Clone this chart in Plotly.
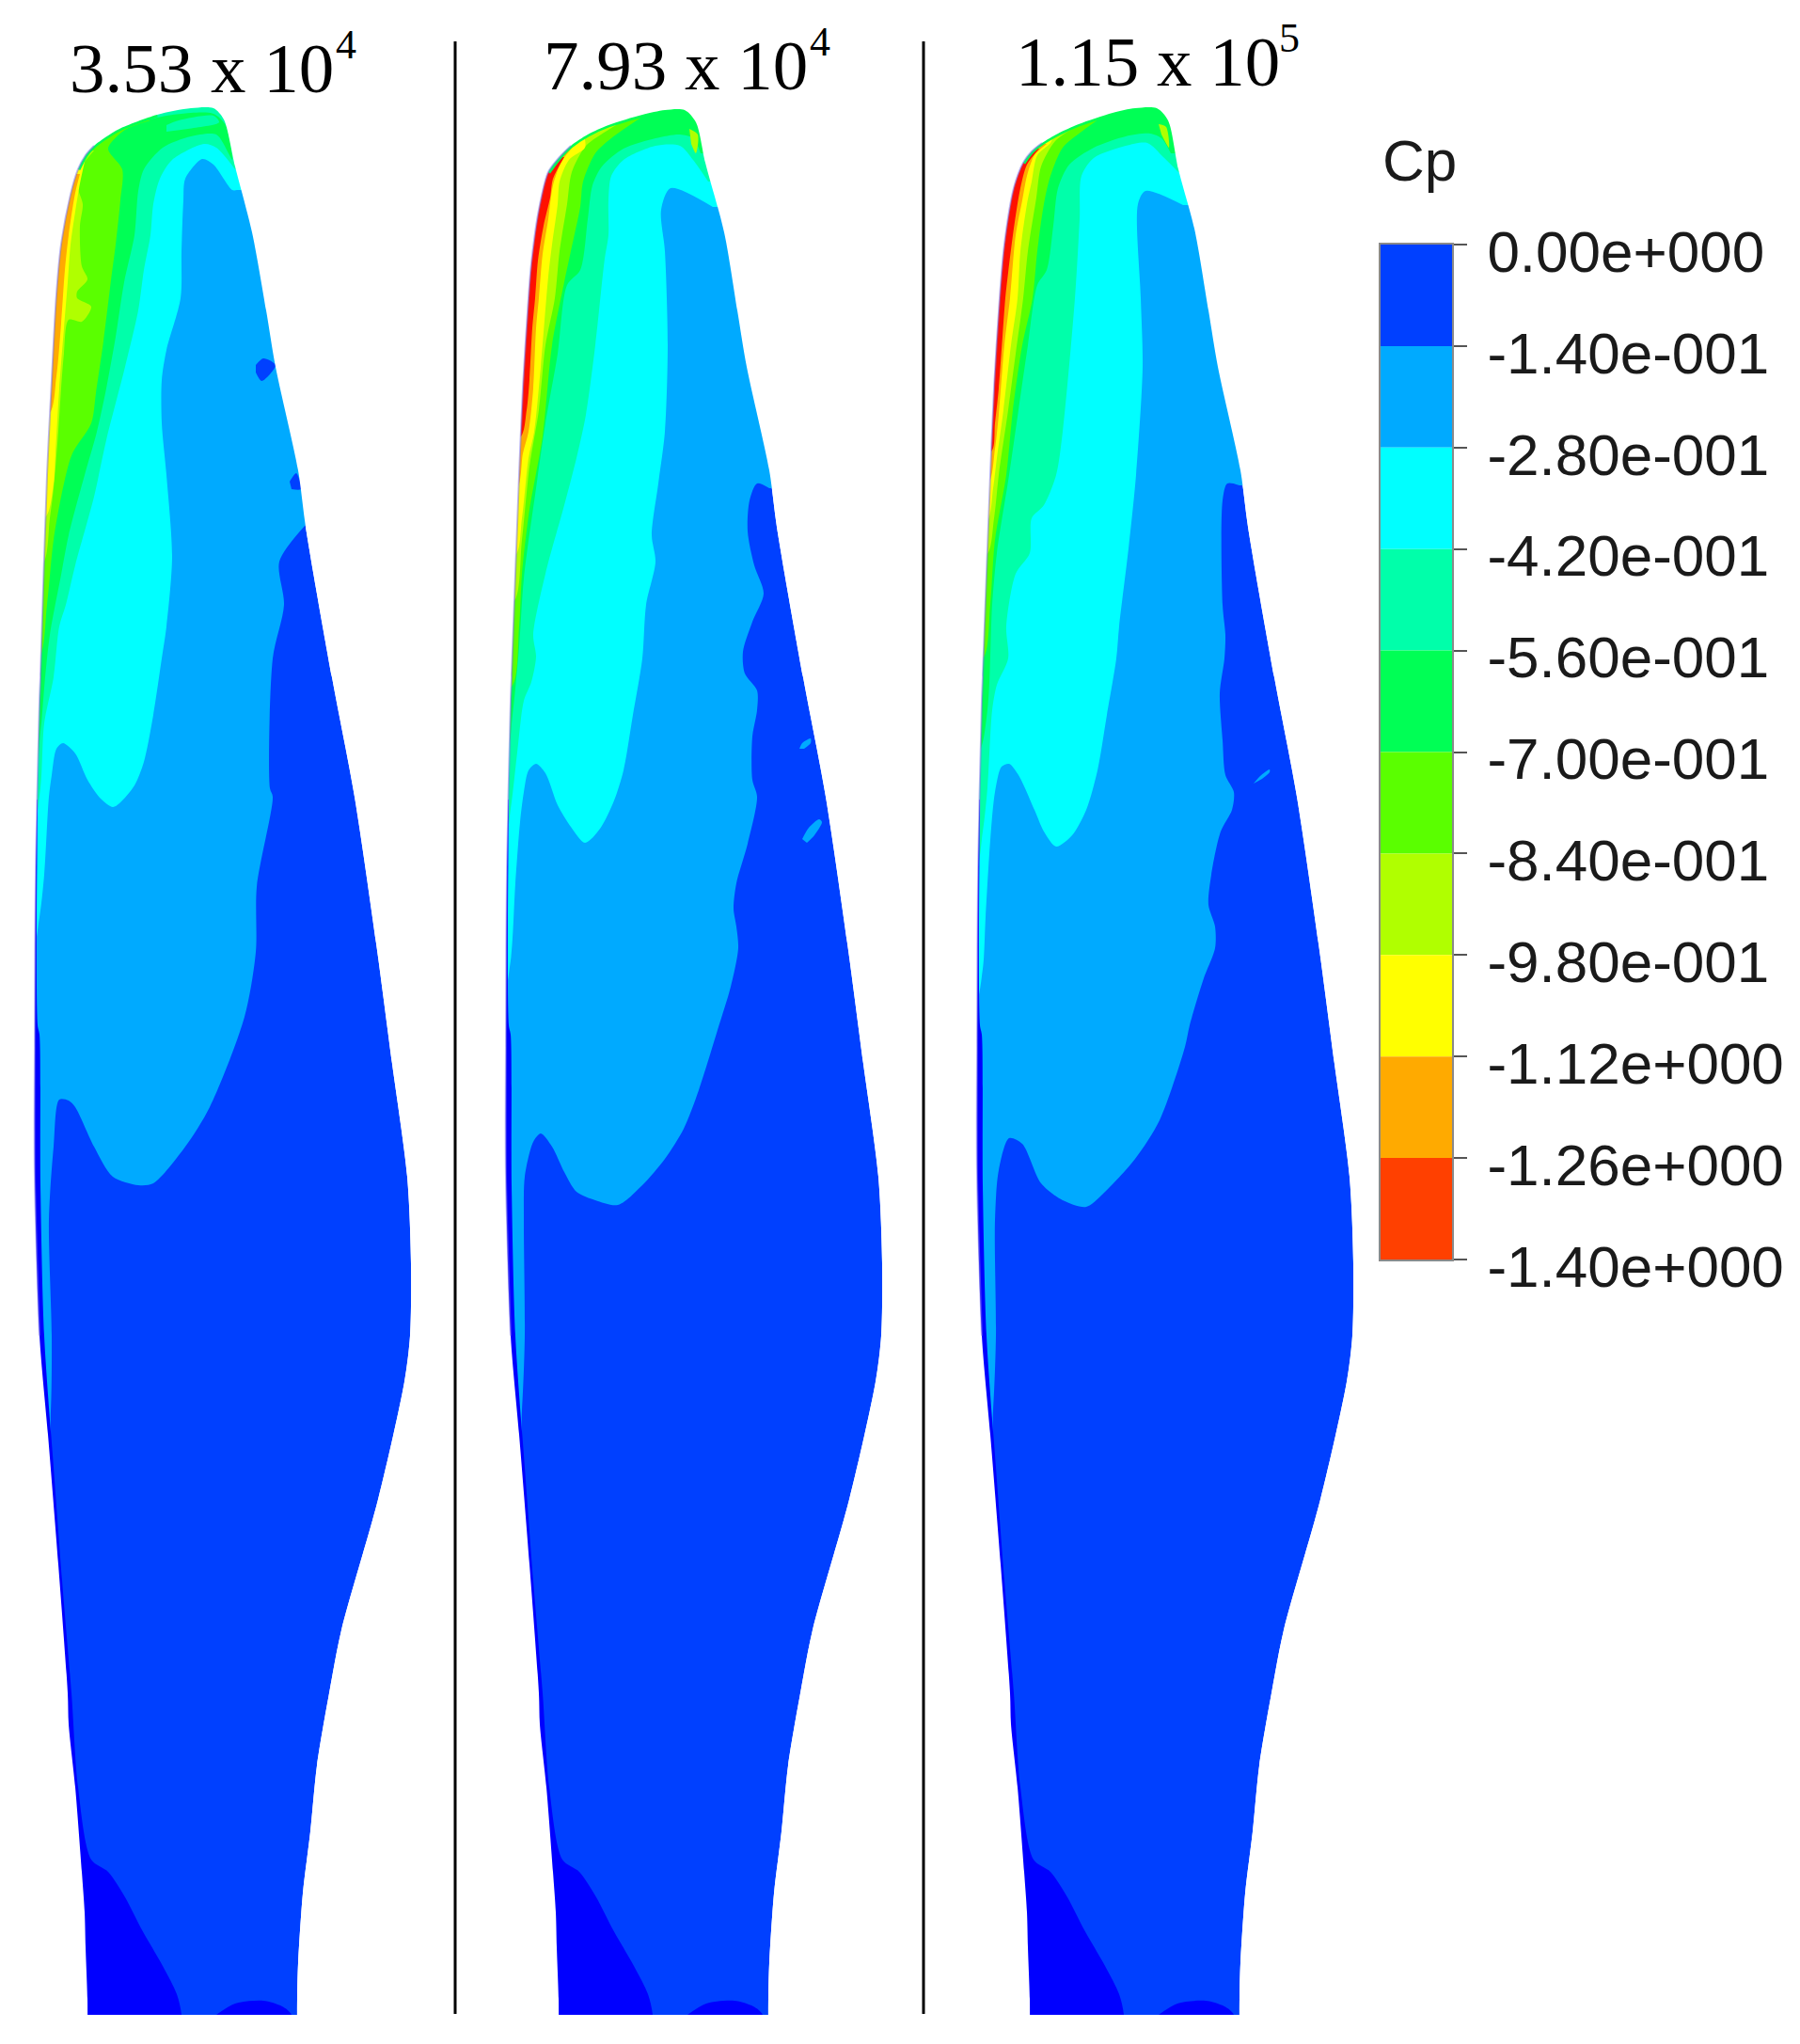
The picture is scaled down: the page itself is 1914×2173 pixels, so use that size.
import plotly.graph_objects as go

# contour levels of the legend, top to bottom
CP_LEVELS = [0.0, -0.14, -0.28, -0.42, -0.56, -0.70, -0.84, -0.98, -1.12, -1.26, -1.40]
CP_LABELS = ['0.00e+000', '-1.40e-001', '-2.80e-001', '-4.20e-001', '-5.60e-001', '-7.00e-001',
             '-8.40e-001', '-9.80e-001', '-1.12e+000', '-1.26e+000', '-1.40e+000']
CP_COLORS = ['#0040ff', '#00aaff', '#00ffff', '#00ffaa', '#00ff55', '#5aff00',
             '#b0ff00', '#ffff00', '#ffaa00', '#ff4000']

C_DEEP = '#0000ff'
C_DARK, C_LIGHT, C_CYAN, C_TEAL, C_GREEN, C_LIME, C_YGREEN, C_YELLOW, C_ORANGE = CP_COLORS[:9]
C_RED = '#ff1000'

RE_TEXT = ['3.53 x 10', '7.93 x 10', '1.15 x 10']
RE_EXP = ['4', '4', '5']
RE_X = [73, 577, 1079]
RE_EXP_X = [356, 860, 1359]
RE_Y = [97, 94, 90]

SEP_X = [484, 982]
SEP_Y = [44, 2141]
ROOT_CUT_Y = 2142

LOWER_OUTLINE = [(283, 330), (293, 390), (317, 500), (325, 560), (353, 720), (377, 847), (400, 1003),
                 (417, 1131), (433, 1251), (437, 1343), (436, 1420), (430, 1469), (402, 1594), (363, 1733),
                 (350, 1800), (337, 1877), (330, 1947), (322, 2013), (317, 2087), (316, 2125), (316, 2170),
                 (316, 2173), (93, 2173), (93, 2170), (93, 2125), (91, 2070), (90, 2033), (87, 1990), (80, 1900),
                 (73, 1833), (72, 1800), (62, 1663), (51, 1525), (42, 1420), (37, 1251), (37, 1113), (38, 930),
                 (42, 746), (43, 720)]
ROOT_DEEP = [(40, 850), (40, 1090), (42, 1100), (43, 1260), (47, 1420), (57, 1560), (66, 1680), (76, 1800),
             (83, 1900), (97, 1977), (115, 1990), (133, 2017), (150, 2050), (173, 2090), (188, 2120),
             (193, 2142), (193, 2200), (20, 2200), (20, 850)]
ROOT_PATCH = [(230, 2142), (250, 2130), (280, 2127), (300, 2133), (310, 2142), (310, 2200), (230, 2200)]
BLADE_DX = [0, 501, 1002]

# --- 3.53e4 ---
TIP_1 = [(50, 505), (55, 404), (60, 313), (65, 260), (75, 207), (83, 180), (91, 165), (100, 155), (112, 146), (127, 137),
         (167, 122), (203, 115), (227, 115), (238, 127), (250, 177), (268, 247)]
LIGHT_1 = [(325, 558), (297, 597), (302, 643), (290, 700), (287, 838), (290, 847), (273, 943), (272, 1012),
           (260, 1081), (223, 1177), (197, 1219), (163, 1258), (147, 1260), (120, 1251), (100, 1219), (80, 1177),
           (73, 1170), (63, 1169), (57, 1219), (52, 1297), (55, 1420), (54, 1500), (48, 1570)]
CYAN_1 = [(252, 202), (247, 202), (227, 175), (215, 169), (197, 190), (195, 213), (193, 267), (192, 317),
          (177, 372), (172, 404), (172, 450), (177, 505), (183, 592), (177, 666), (172, 700), (163, 760),
          (153, 810), (143, 835), (127, 854), (120, 858), (107, 849), (93, 829), (80, 801), (67, 790), (60, 796),
          (55, 824), (52, 847), (47, 930), (42, 975), (33, 1015)]
TEAL_1 = [(250, 180), (230, 157), (217, 153), (183, 170), (170, 190), (163, 217), (160, 250), (153, 287),
          (147, 330), (133, 390), (113, 468), (100, 528), (80, 601), (70, 643), (63, 666), (57, 720), (47, 769),
          (43, 838), (34, 880)]
GREEN_1 = [(100, 158), (127, 139), (167, 125), (203, 120), (227, 121), (240, 133), (247, 170), (243, 163),
           (230, 143), (203, 145), (173, 157), (153, 180), (147, 203), (143, 250), (132, 300), (123, 358),
           (113, 413), (103, 459), (90, 505), (73, 569), (65, 611), (53, 675), (48, 720), (43, 778), (36, 820)]
TEAL_BLOB_1 = [(177, 133), (190, 128), (227, 123), (233, 130), (200, 137), (177, 140)]
LIME_1 = [(160, 128), (133, 138), (115, 158), (130, 180), (128, 213), (123, 260), (118, 298), (110, 363),
          (102, 418), (97, 450), (77, 482), (68, 514), (57, 574), (50, 643), (41, 700)]
YGREEN_1 = [(100, 160), (85, 180), (83, 200), (88, 217), (85, 240), (87, 283), (93, 297), (82, 310), (82, 317),
            (97, 326), (87, 342), (73, 340), (68, 376), (65, 413), (62, 459), (57, 519), (53, 551), (45, 600)]
YELLOW_1 = [(90, 172), (85, 195), (80, 225), (75, 260), (72, 300), (68, 349), (63, 413), (59, 482), (57, 514), (48, 550)]
ORANGE_1 = [(85, 185), (80, 205), (73, 250), (69, 287), (65, 344), (60, 400), (52, 440)]
DOTS_1 = [[(272, 388), (280, 381), (293, 388), (285, 400), (278, 405), (272, 396)],
          [(308, 512), (315, 503), (320, 520), (310, 520)]]

# --- 7.93e4 ---
TIP_2 = [(552, 505), (556, 413), (562, 317), (565, 280), (573, 223), (583, 183), (595, 167), (607, 155), (625, 143), (647, 133),
         (683, 122), (707, 117), (728, 117), (740, 130), (750, 173), (770, 247)]
LIGHT_2 = [(818, 519), (805, 514), (797, 532), (795, 565), (802, 601), (812, 631), (800, 661), (790, 693), (792, 716),
           (805, 734), (805, 755), (800, 783), (800, 829), (805, 847), (795, 897), (783, 939), (780, 966), (783, 985),
           (785, 1008), (777, 1049), (763, 1095), (743, 1159), (727, 1200), (707, 1232), (683, 1260), (657, 1281),
           (633, 1276), (613, 1267), (600, 1246), (587, 1219), (575, 1205), (567, 1214), (558, 1251), (557, 1297),
           (558, 1420), (555, 1500), (549, 1570)]
CYAN_2 = [(758, 220), (713, 200), (703, 223), (707, 267), (710, 367), (707, 459), (700, 514), (693, 569), (697, 597),
          (687, 643), (683, 700), (673, 760), (663, 819), (653, 851), (638, 881), (622, 896), (607, 879), (593, 856),
          (580, 822), (570, 812), (562, 819), (557, 842), (553, 874), (548, 939), (543, 1021), (534, 1060)]
TEAL_2 = [(753, 193), (737, 170), (723, 155), (697, 155), (663, 170), (650, 187), (647, 213), (647, 250), (643, 275),
          (633, 367), (623, 441), (613, 487), (600, 537), (580, 610), (567, 675), (570, 698), (565, 725), (557, 745),
          (550, 800), (543, 860), (535, 900)]
GREEN_2 = [(745, 163), (737, 147), (723, 143), (697, 147), (663, 158), (640, 177), (630, 197), (625, 233), (617, 287),
           (603, 303), (593, 376), (580, 450), (570, 519), (557, 615), (552, 688), (545, 760), (538, 800)]
LIME_2 = [(683, 124), (650, 147), (633, 163), (620, 193), (617, 220), (607, 267), (600, 300), (587, 367), (577, 464),
          (563, 542), (555, 611), (552, 666), (544, 730)]
YGREEN_2 = [(660, 130), (647, 138), (623, 155), (608, 183), (603, 217), (595, 267), (590, 317), (580, 367), (573, 436),
            (563, 496), (555, 574), (546, 640)]
YELLOW_2 = [(622, 148), (622, 157), (605, 170), (595, 193), (593, 217), (587, 260), (583, 294), (575, 390), (568, 459),
            (562, 487), (555, 551), (548, 590)]
ORANGE_2 = [(610, 155), (597, 172), (588, 197), (583, 233), (577, 270), (573, 317), (570, 349), (567, 413), (562, 459),
            (556, 482), (549, 520)]
RED_2 = [(600, 167), (588, 190), (585, 210), (578, 240), (572, 277), (569, 317), (566, 349), (563, 404), (560, 436),
         (553, 465)]
PATCH_2 = [(733, 137), (742, 143), (740, 163), (735, 153)]
DOTS_2 = [[(850, 796), (853, 790), (862, 785), (862, 790), (855, 796)],
          [(853, 892), (860, 880), (871, 871), (874, 874), (866, 888), (858, 896)]]

# --- 1.15e5 ---
TIP_3 = [(1053, 505), (1057, 413), (1063, 317), (1068, 260), (1078, 200), (1088, 173), (1097, 161), (1108, 152), (1125, 142),
         (1147, 132), (1183, 120), (1207, 115), (1230, 115), (1242, 128), (1253, 180), (1270, 243)]
LIGHT_3 = [(1318, 516), (1305, 514), (1300, 532), (1300, 643), (1303, 675), (1302, 700), (1297, 737), (1300, 787),
           (1303, 824), (1312, 842), (1310, 861), (1298, 884), (1288, 930), (1285, 962), (1292, 985), (1292, 1008),
           (1280, 1040), (1265, 1090), (1260, 1113), (1233, 1191), (1207, 1232), (1173, 1269), (1155, 1283),
           (1130, 1276), (1107, 1258), (1087, 1216), (1073, 1210), (1062, 1244), (1058, 1297), (1059, 1420),
           (1056, 1500), (1050, 1570)]
CYAN_3 = [(1258, 218), (1218, 203), (1210, 217), (1213, 317), (1215, 390), (1208, 505), (1200, 583), (1190, 666),
          (1187, 700), (1177, 760), (1167, 819), (1155, 861), (1140, 888), (1123, 900), (1110, 884), (1100, 861),
          (1083, 824), (1073, 812), (1065, 815), (1058, 842), (1053, 893), (1048, 975), (1045, 1030), (1036, 1070)]
TEAL_3 = [(1253, 183), (1237, 167), (1220, 152), (1197, 155), (1163, 168), (1150, 187), (1148, 233), (1143, 317),
          (1130, 459), (1123, 505), (1110, 537), (1097, 551), (1095, 588), (1080, 610), (1070, 666), (1072, 700),
          (1060, 728), (1055, 755), (1050, 838), (1045, 884), (1036, 930)]
GREEN_3 = [(1245, 163), (1235, 147), (1223, 142), (1197, 145), (1163, 157), (1137, 175), (1125, 200), (1120, 240),
           (1113, 287), (1103, 303), (1093, 367), (1083, 436), (1073, 505), (1060, 588), (1055, 643), (1050, 755),
           (1040, 800)]
LIME_3 = [(1175, 122), (1150, 140), (1130, 157), (1117, 187), (1110, 217), (1103, 267), (1098, 317), (1087, 367),
          (1077, 436), (1070, 505), (1058, 574), (1053, 643), (1045, 700)]
YGREEN_3 = [(1155, 128), (1143, 135), (1122, 150), (1107, 177), (1102, 210), (1093, 267), (1088, 317), (1080, 376),
            (1072, 436), (1062, 505), (1057, 551), (1049, 590)]
YELLOW_3 = [(1120, 145), (1117, 152), (1103, 165), (1097, 193), (1092, 217), (1085, 267), (1082, 317), (1075, 367),
            (1067, 436), (1060, 487), (1056, 519), (1049, 555)]
ORANGE_3 = [(1113, 153), (1100, 165), (1092, 187), (1087, 213), (1080, 250), (1074, 317), (1068, 367), (1062, 441),
            (1058, 477), (1050, 515)]
RED_3 = [(1105, 158), (1092, 175), (1085, 200), (1078, 243), (1072, 290), (1069, 317), (1066, 358), (1062, 413),
         (1058, 450), (1054, 480)]
PATCH_3 = [(1232, 132), (1240, 135), (1243, 157), (1235, 143)]
DOTS_3 = [[(1333, 833), (1340, 825), (1350, 818), (1350, 821), (1342, 828)]]

PLOT_RIGHT = 1460
TOP = 60
SPLINE = dict(shape='spline', smoothing=0.8, width=0)


def fill(fig, pts, color):
    fig.add_trace(go.Scatter(x=[p[0] for p in pts], y=[p[1] for p in pts], mode='lines', fill='toself',
                             fillcolor=color, line=dict(color=color, **SPLINE), hoverinfo='skip', showlegend=False))


# band whose boundary runs from the right edge to the left edge: closes over the top
def band_top(fig, pts, color, left):
    x0, y0 = pts[0]
    fill(fig, pts + [(left, pts[-1][1]), (left, TOP), (x0 + 60, TOP), (x0 + 60, y0)], color)


# band hugging the leading edge: closes on the left only
def band_left(fig, pts, color, left):
    fill(fig, pts + [(left, pts[-1][1]), (left, pts[0][1])], color)


fig = go.Figure()

blades = [
    dict(tip=TIP_1, light=LIGHT_1, cyan=CYAN_1, teal=TEAL_1, green=GREEN_1, lime=LIME_1, ygreen=YGREEN_1,
         yellow=YELLOW_1, orange=ORANGE_1, red=None, patch=None, dots=DOTS_1),
    dict(tip=TIP_2, light=LIGHT_2, cyan=CYAN_2, teal=TEAL_2, green=GREEN_2, lime=LIME_2, ygreen=YGREEN_2,
         yellow=YELLOW_2, orange=ORANGE_2, red=RED_2, patch=PATCH_2, dots=DOTS_2),
    dict(tip=TIP_3, light=LIGHT_3, cyan=CYAN_3, teal=TEAL_3, green=GREEN_3, lime=LIME_3, ygreen=YGREEN_3,
         yellow=YELLOW_3, orange=ORANGE_3, red=RED_3, patch=PATCH_3, dots=DOTS_3),
]

# extra points beside the corners keep the box edges straight under the spline
R = PLOT_RIGHT
mask_x = [0, 0, 0, 0, 5, R - 5, R, R, R, R, R - 5, 5, 0]
mask_y = [5, 2168, 2173, 2173, 2173, 2173, 2173, 2168, 5, 0, 0, 0, 5]
edge_x, edge_y = [], []

for b, dx in zip(blades, BLADE_DX):
    left = dx + 15
    outline = b['tip'] + [(x + dx, y) for x, y in LOWER_OUTLINE]
    fill(fig, outline, C_DARK)
    band_top(fig, b['light'], C_LIGHT, left)
    for dot in b['dots']:
        # the first blade has dark spots in the light band, the others light spots in the dark band
        fill(fig, dot, C_DARK if dx == 0 else C_LIGHT)
    band_top(fig, b['cyan'], C_CYAN, left)
    band_top(fig, b['teal'], C_TEAL, left)
    if dx == 0:
        band_left(fig, b['green'], C_GREEN, left)
        fill(fig, TEAL_BLOB_1, C_TEAL)
    else:
        band_top(fig, b['green'], C_GREEN, left)
    band_left(fig, b['lime'], C_LIME, left)
    band_left(fig, b['ygreen'], C_YGREEN, left)
    band_left(fig, b['yellow'], C_YELLOW, left)
    band_left(fig, b['orange'], C_ORANGE, left)
    if b['red']:
        band_left(fig, b['red'], C_RED, left)
    if b['patch']:
        fill(fig, b['patch'], C_YGREEN)
    fill(fig, [(x + dx, y) for x, y in ROOT_DEEP], C_DEEP)
    fill(fig, [(x + dx, y) for x, y in ROOT_PATCH], C_DEEP)

    # thin green rim round the shoulder of the tip, half of it hidden by the mask
    rim = b['tip'][5:11]
    fig.add_trace(go.Scatter(x=[p[0] for p in rim], y=[p[1] for p in rim], mode='lines',
                             line=dict(color=C_GREEN, width=5, shape='spline', smoothing=0.8),
                             hoverinfo='skip', showlegend=False))

    closed = outline + [outline[0]]
    mask_x += [None] + [p[0] for p in closed]
    mask_y += [None] + [p[1] for p in closed]
    # soft fringe on the leading edge
    le = [(x + dx, y) for x, y in LOWER_OUTLINE[-6:]] + b['tip'][:8]
    edge_x += [p[0] for p in le] + [None]
    edge_y += [p[1] for p in le] + [None]

# white everything outside the three blades, and cut the blade roots flat
fig.add_trace(go.Scatter(x=mask_x, y=mask_y, mode='lines', fill='toself', fillcolor='white',
                         line=dict(color='white', **SPLINE), hoverinfo='skip', showlegend=False))
fig.add_trace(go.Scatter(x=[0, R, R, 0, 0], y=[ROOT_CUT_Y, ROOT_CUT_Y, 2173, 2173, ROOT_CUT_Y], mode='lines',
                         fill='toself', fillcolor='white', line=dict(color='white', width=0),
                         hoverinfo='skip', showlegend=False))
fig.add_trace(go.Scatter(x=edge_x, y=edge_y, mode='lines',
                         line=dict(color='rgba(120,110,235,0.5)', width=2, shape='spline', smoothing=0.8),
                         hoverinfo='skip', showlegend=False))

for sx in SEP_X:
    fig.add_trace(go.Scatter(x=[sx, sx], y=SEP_Y, mode='lines', line=dict(color='black', width=3),
                             hoverinfo='skip', showlegend=False))

# legend bar on its own axes so the ticks come from the Cp scale
for i, c in enumerate(CP_COLORS):
    fig.add_trace(go.Bar(x=[0.5], y=[CP_LEVELS[i + 1] - CP_LEVELS[i]], base=[CP_LEVELS[i]], width=1,
                         marker=dict(color=c, line=dict(width=0)), xaxis='x2', yaxis='y2',
                         hoverinfo='skip', showlegend=False))

W, H = 1914, 2173
fig.update_layout(
    width=W, height=H, margin=dict(l=0, r=0, t=0, b=0, pad=0),
    paper_bgcolor='white', plot_bgcolor='rgba(0,0,0,0)', barmode='overlay',
    xaxis=dict(range=[0, W], domain=[0, 1], visible=False, automargin=False),
    yaxis=dict(range=[H, 0], domain=[0, 1], visible=False, automargin=False),
    xaxis2=dict(domain=[1468 / W, 1544 / W], range=[0, 1], anchor='y2', showticklabels=False, ticks='',
                automargin=False, showgrid=False, zeroline=False, showline=True, linecolor='#8a8a8a',
                linewidth=2, mirror=True),
    yaxis2=dict(domain=[1 - 1339 / H, 1 - 260 / H], range=[-1.4, 0], anchor='x2', side='right', automargin=False,
                tickmode='array', tickvals=CP_LEVELS, ticktext=CP_LABELS, ticks='outside', ticklen=14,
                tickwidth=1.5, tickcolor='#555555', showgrid=False, zeroline=False, showline=True,
                linecolor='#8a8a8a', linewidth=2, mirror=True, ticklabelstandoff=9, ticklabelshift=7,
                tickfont=dict(family='Liberation Sans', size=62, color='#1a1a1a')),
)

for txt, exp, tx, ex, ty in zip(RE_TEXT, RE_EXP, RE_X, RE_EXP_X, RE_Y):
    fig.add_annotation(x=tx, y=ty + 18, xref='x', yref='y', text=txt, showarrow=False, xanchor='left',
                       yanchor='bottom', borderpad=0,
                       font=dict(family='Liberation Serif', size=75, color='black'))
    fig.add_annotation(x=ex, y=ty - 24, xref='x', yref='y', text=exp, showarrow=False, xanchor='left',
                       yanchor='bottom', borderpad=0,
                       font=dict(family='Liberation Serif', size=44, color='black'))

fig.add_annotation(x=1469, y=206, xref='x', yref='y', text='Cp', showarrow=False, xanchor='left', yanchor='bottom',
                   borderpad=0, font=dict(family='Liberation Sans', size=62, color='#1a1a1a'))

fig.write_html("out.html", config={'displayModeBar': False}, post_script="document.body.style.margin='0';")
